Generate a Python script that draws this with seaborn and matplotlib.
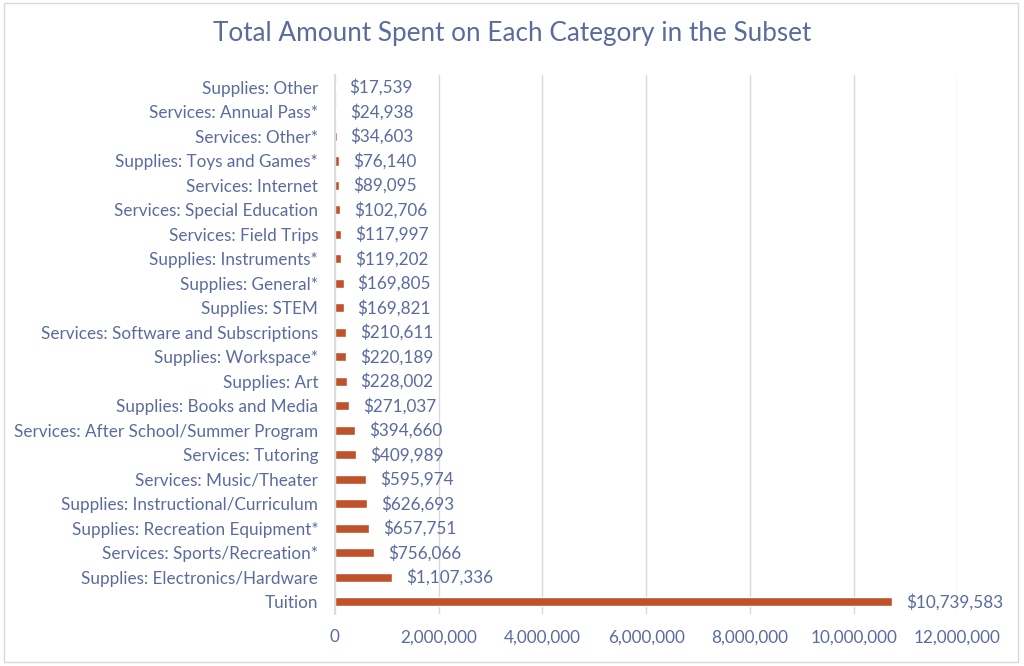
import matplotlib
matplotlib.use("Agg")
import matplotlib.pyplot as plt
import seaborn as sns
import pandas as pd
from matplotlib.patches import Rectangle
from matplotlib.ticker import FuncFormatter

categories = [
    "Supplies: Other", "Services: Annual Pass*", "Services: Other*",
    "Supplies: Toys and Games*", "Services: Internet", "Services: Special Education",
    "Services: Field Trips", "Supplies: Instruments*", "Supplies: General*",
    "Supplies: STEM", "Services: Software and Subscriptions", "Supplies: Workspace*",
    "Supplies: Art", "Supplies: Books and Media", "Services: After School/Summer Program",
    "Services: Tutoring", "Services: Music/Theater", "Supplies: Instructional/Curriculum",
    "Supplies: Recreation Equipment*", "Services: Sports/Recreation*",
    "Supplies: Electronics/Hardware", "Tuition",
]
amounts = [
    17539, 24938, 34603, 76140, 89095, 102706, 117997, 119202, 169805, 169821,
    210611, 220189, 228002, 271037, 394660, 409989, 595974, 626693, 657751,
    756066, 1107336, 10739583,
]

TEXT = "#5B6B9E"
BAR = "#C0522B"

sns.set_theme(style="white")
plt.rcParams["font.family"] = ["Lato", "DejaVu Sans"]

df = pd.DataFrame({"category": categories, "amount": amounts})

fig = plt.figure(figsize=(10.24, 6.66), dpi=100)
ax = fig.add_axes([0.327, 0.078, 0.608, 0.809])

sns.barplot(data=df, x="amount", y="category", color=BAR, saturation=1,
            width=0.37, ax=ax)

ax.set_xlim(0, 12_000_000)
ax.set_xticks(range(0, 12_000_001, 2_000_000))
ax.xaxis.set_major_formatter(FuncFormatter(lambda v, _: f"{int(v):,}"))
ax.grid(axis="x", color="#D9D9D9", linewidth=1)
ax.set_axisbelow(True)
for s in ["top", "right", "bottom"]:
    ax.spines[s].set_visible(False)
ax.spines["left"].set_color("#D9D9D9")
ax.tick_params(axis="both", length=0, labelsize=12.3, colors=TEXT)
ax.tick_params(axis="y", pad=12)
ax.tick_params(axis="x", pad=11)
ax.set_xlabel("")
ax.set_ylabel("")

ax.bar_label(ax.containers[0], labels=[f"${v:,}" for v in amounts],
             padding=10, fontsize=12.3, color=TEXT)

fig.suptitle("Total Amount Spent on Each Category in the Subset",
             y=0.968, fontsize=18.8, color=TEXT)

fig.patches.append(Rectangle((0.004, 0.006), 0.99, 0.99, transform=fig.transFigure,
                             fill=False, edgecolor="#D9D9D9", linewidth=1))

fig.savefig("out.png", dpi=100)
